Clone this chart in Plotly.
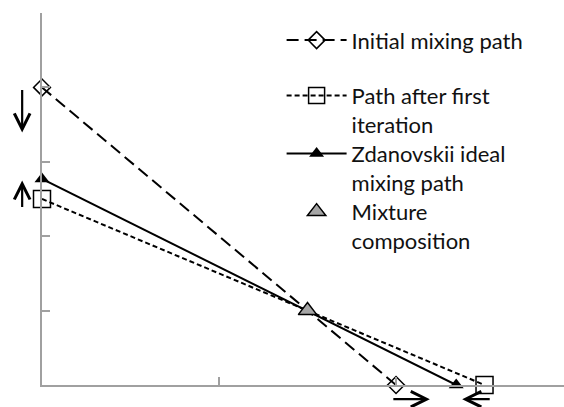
import plotly.graph_objects as go

# Mixing paths: end points on the two axes
x_initial = [0.0, 2.0]
y_initial = [4.0, 0.0]
x_first = [0.0, 2.5]
y_first = [2.5, 0.0]
x_ideal = [0.0, 2.34]
y_ideal = [2.77, 0.0]
# Overall mixture composition
x_mix = [1.5]
y_mix = [1.0]

names = [
    "Initial mixing path",
    "Path after first<br>iteration",
    "Zdanovskii ideal<br>mixing path",
    "Mixture<br>composition",
]

FONT = "Lato"
AXIS_COLOR = "#a0a0a0"

fig = go.Figure()
fig.add_trace(go.Scatter(
    x=x_initial, y=y_initial, name=names[0], mode="lines+markers",
    line=dict(color="black", width=2, dash="12px,6px"),
    marker=dict(symbol="diamond-open", size=13, color="black", line=dict(width=1.5)),
    cliponaxis=False, legend="legend", showlegend=True,
))
fig.add_trace(go.Scatter(
    x=x_first, y=y_first, name=names[1], mode="lines+markers",
    line=dict(color="black", width=2, dash="5px,3px"),
    marker=dict(symbol="square-open", size=17, color="black", line=dict(width=1.5)),
    cliponaxis=False, legend="legend2", showlegend=True,
))
fig.add_trace(go.Scatter(
    x=x_ideal, y=y_ideal, name=names[2], mode="lines+markers",
    line=dict(color="black", width=2),
    marker=dict(symbol="triangle-up", size=13, color="black"),
    cliponaxis=False, legend="legend3", showlegend=True,
))
fig.add_trace(go.Scatter(
    x=x_mix, y=y_mix, name=names[3], mode="markers",
    marker=dict(symbol="triangle-up", size=16, color="#a6a6a6",
                line=dict(color="black", width=1.5)),
    cliponaxis=False, legend="legend4", showlegend=True,
))

legend_common = dict(
    font=dict(family=FONT, size=22, color="#111111"),
    bgcolor="rgba(0,0,0,0)", borderwidth=0,
    xanchor="left", yanchor="top", valign="top",
    itemwidth=60, x=0.459,
)
fig.update_layout(
    showlegend=True,
    legend=dict(legend_common, y=0.983),
    legend2=dict(legend_common, y=0.834),
    legend3=dict(legend_common, y=0.678),
    legend4=dict(legend_common, y=0.522),
)

# Direction arrows next to the axes
arrow_style = dict(xref="paper", yref="paper", showarrow=True, arrowhead=5,
                   arrowsize=1.4, arrowwidth=2.2, arrowcolor="black", text="",
                   font=dict(size=1), borderpad=0,
                   axref="pixel", ayref="pixel")
fig.add_annotation(arrow_style, x=-0.038, y=0.679, ax=0, ay=-43)
fig.add_annotation(arrow_style, x=-0.038, y=0.550, ax=0, ay=27)
fig.add_annotation(arrow_style, x=0.743, y=-0.038, ax=-37, ay=0)
fig.add_annotation(arrow_style, x=0.805, y=-0.038, ax=28, ay=0)

axis_common = dict(
    showgrid=False, zeroline=False, showline=True, linecolor=AXIS_COLOR,
    linewidth=1.5, ticks="inside", ticklen=8, tickcolor=AXIS_COLOR,
    tickwidth=1.5, showticklabels=False, dtick=1,
)
fig.update_xaxes(axis_common, range=[0, 2.949])
fig.update_yaxes(axis_common, range=[0, 5])

fig.update_layout(
    width=564, height=407,
    margin=dict(l=42, r=0, t=13, b=22),
    plot_bgcolor="white", paper_bgcolor="white",
    font=dict(family=FONT),
)

fig.write_html("out.html")
